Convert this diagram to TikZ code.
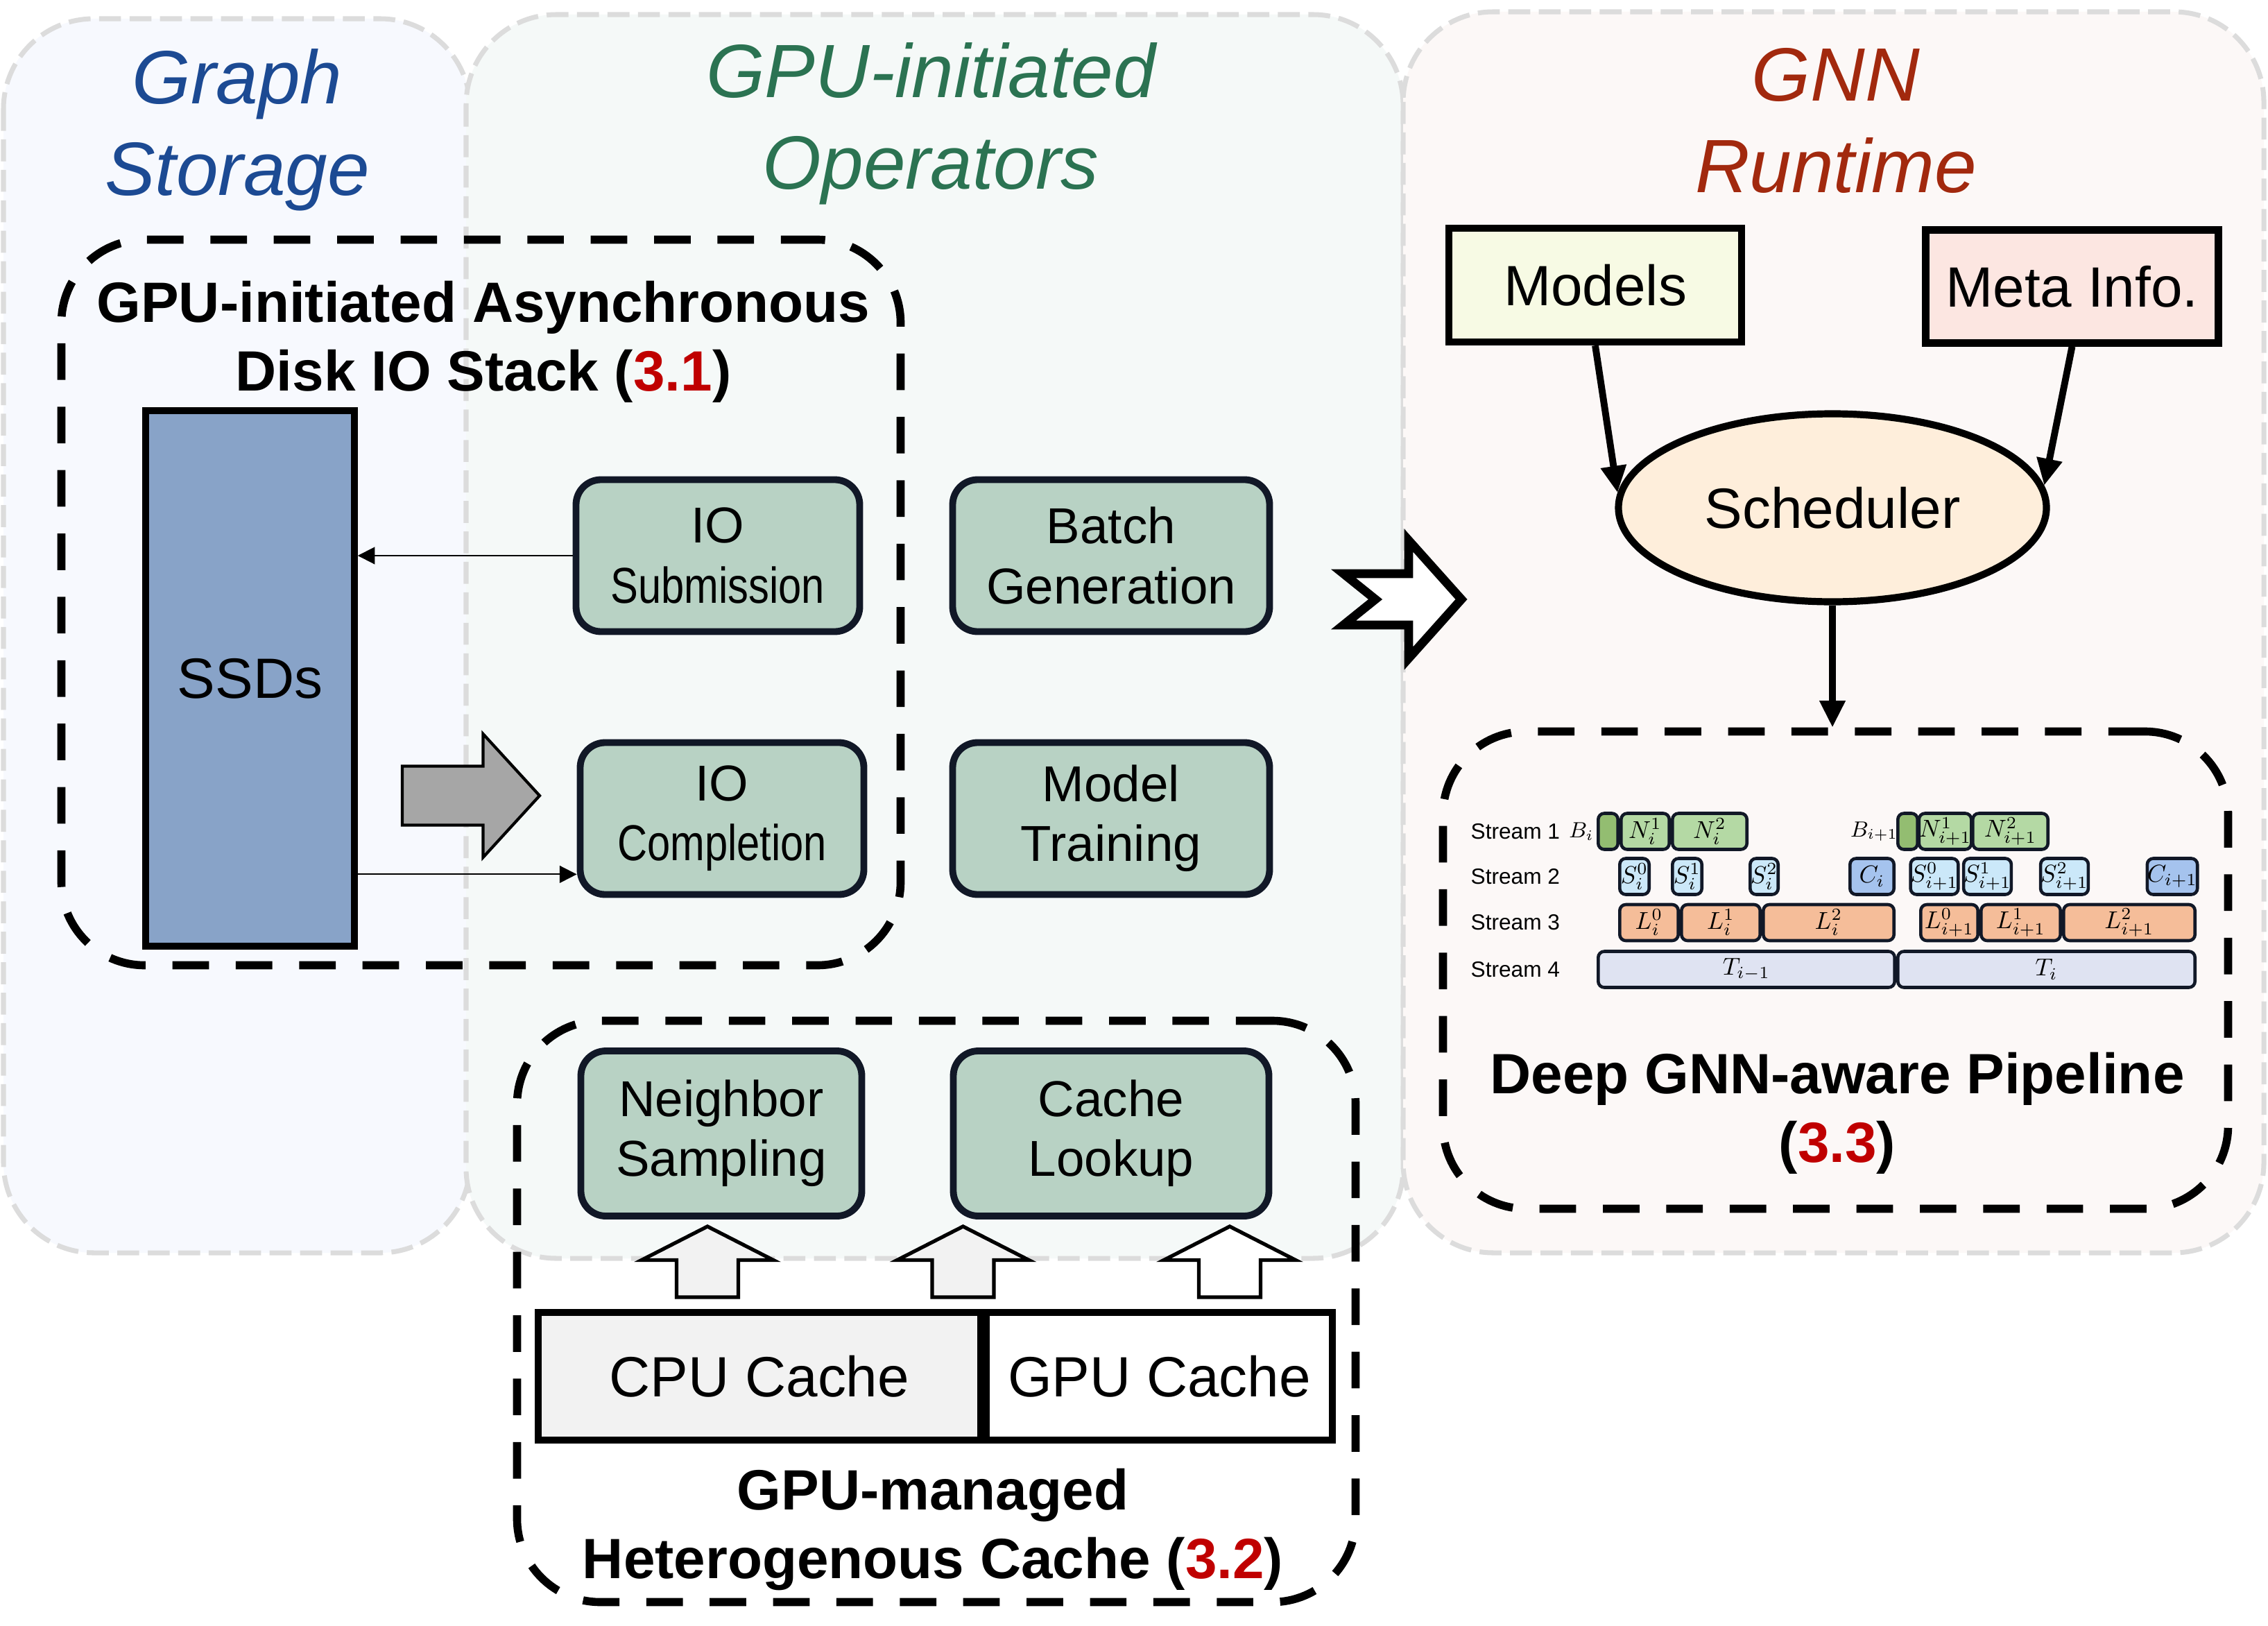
\documentclass[tikz,border=0pt]{standalone}
\usepackage{fontspec}
\setmainfont{Liberation Sans}
\usepackage{graphicx}
\usepackage{xcolor}
\usetikzlibrary{positioning, arrows.meta, shapes.geometric}
\definecolor{graphbg}{HTML}{F7F9FE}
\definecolor{opbg}{HTML}{F5F9F8}
\definecolor{gnnbg}{HTML}{FCF8F7}
\definecolor{panelgray}{HTML}{DCDCDC}
\definecolor{titleblue}{HTML}{1C4A93}
\definecolor{titlegreen}{HTML}{2B7352}
\definecolor{titlered}{HTML}{A2290E}
\definecolor{secred}{HTML}{C00000}
\definecolor{opgreen}{HTML}{B8D2C4}
\definecolor{inkblue}{HTML}{111827}
\definecolor{ssdblue}{HTML}{88A3C8}
\definecolor{arrowgray}{HTML}{A6A6A6}
\definecolor{cachegray}{HTML}{F2F2F2}
\definecolor{modelsfill}{HTML}{F7FAE4}
\definecolor{metafill}{HTML}{FCE6E1}
\definecolor{schedfill}{HTML}{FEEEDB}
\definecolor{bdark}{HTML}{93BD71}
\definecolor{blight}{HTML}{B4D9A4}
\definecolor{slight}{HTML}{CBE8F9}
\definecolor{cblue}{HTML}{A5C3EE}
\definecolor{lorange}{HTML}{F5BD99}
\definecolor{tlav}{HTML}{DFE3F2}

\begin{document}
\begin{tikzpicture}[
    panel/.style={line width=2pt, draw=panelgray, dash pattern=on 9pt off 3.5pt, rounded corners=1.3cm},
    ptitle/.style={font=\fontsize{31}{37.5}\selectfont\itshape, align=center},
    dbox/.style={rectangle, draw, line width=3.3pt, dash pattern=on 15pt off 11pt, rounded corners=1.2cm},
    hdr/.style={font=\fontsize{23.3}{28}\selectfont\bfseries, align=center},
    op/.style={rectangle, rounded corners=0.36cm, draw=inkblue, line width=2.8pt, fill=opgreen,
               font=\fontsize{20.7}{24.5}\selectfont, align=center, inner sep=0pt},
    plainbox/.style={rectangle, draw, line width=2.7pt, inner sep=0pt, font=\fontsize{23.3}{28}\selectfont},
    blk/.style={rectangle, rounded corners=2.5pt, draw=inkblue, line width=1.3pt, minimum height=0.52cm,
                inner sep=0pt, font=\fontsize{10}{12}\selectfont},
    stream/.style={anchor=west, inner sep=0pt, font=\fontsize{9}{11}\selectfont},
    thinarr/.style={-{Triangle[length=7pt,width=7pt]}, line width=0.6pt},
    thickarr/.style={-{Triangle[length=11pt,width=10pt]}, line width=2.8pt},
    blockarr/.style={draw, line width=1.5pt}
  ]
  \useasboundingbox[fill=white] (0,0) rectangle (32.70,-23.44);

  % background panels
  \draw[panel, fill=graphbg] (0.05,-0.27) rectangle (6.78,-18.06);
  \draw[panel, fill=opbg] (6.72,-0.21) rectangle (20.23,-18.14);
  \draw[panel, fill=gnnbg] (20.23,-0.17) rectangle (32.64,-18.06);

  \node[ptitle, text=titleblue] (gstitle) at (3.42,-1.87) {Graph\\Storage};
  \node[ptitle, text=titlegreen] (optitle) at (13.42,-1.78) {GPU-initiated\\Operators};
  \node[ptitle, text=titlered] (rttitle) at (26.47,-1.74) {GNN\\Runtime};

  % dashed groups
  \node[dbox, minimum width=12.10cm, minimum height=10.46cm] (diskio) at (6.935,-8.685) {};
  \node[dbox, minimum width=12.09cm, minimum height=8.38cm] (hetcache) at (13.50,-18.905) {};
  \node[dbox, minimum width=11.32cm, minimum height=6.88cm] (pipe) at (26.465,-13.985) {};

  \node[hdr] (diskhdr) at (6.97,-4.93) {GPU-initiated Asynchronous\\Disk IO Stack (\textcolor{secred}{3.1})};
  \node[hdr] (cachehdr) at (13.45,-22.05) {GPU-managed\\Heterogenous Cache (\textcolor{secred}{3.2})};
  \node[hdr] (pipehdr) at (26.49,-16.05) {Deep GNN-aware Pipeline\\(\textcolor{secred}{3.3})};

  % storage and operators
  \node[plainbox, fill=ssdblue, minimum width=3.01cm, minimum height=7.72cm] (ssd) at (3.605,-9.78) {SSDs};
  \node[op, minimum width=4.09cm, minimum height=2.19cm] (iosub) at (10.35,-8.01) {IO\\\scalebox{0.82}[1]{Submission}};
  \node[op, minimum width=4.09cm, minimum height=2.19cm] (iocomp) at (10.41,-11.80) {IO\\\scalebox{0.82}[1]{Completion}};
  \node[op, minimum width=4.57cm, minimum height=2.19cm] (batch) at (16.02,-8.01) {Batch\\Generation};
  \node[op, minimum width=4.57cm, minimum height=2.19cm] (train) at (16.02,-11.80) {Model\\Training};
  \node[op, minimum width=4.05cm, minimum height=2.38cm] (nsamp) at (10.40,-16.34) {Neighbor\\Sampling};
  \node[op, minimum width=4.55cm, minimum height=2.38cm] (lookup) at (16.02,-16.34) {Cache\\Lookup};

  \draw[thinarr] (iosub.west) -- (iosub.west -| ssd.east);
  \draw[thinarr] (iocomp.201 -| ssd.east) -- (iocomp.201);
  \draw[blockarr, fill=arrowgray, line width=1.2pt] (5.80,-11.045) -- (6.965,-11.045) -- (6.965,-10.58)
    -- (7.78,-11.47) -- (6.965,-12.36) -- (6.965,-11.895) -- (5.80,-11.895) -- cycle;

  % cache
  \node[plainbox, fill=cachegray, minimum width=6.38cm, minimum height=1.84cm] (cpuc) at (10.95,-19.84) {CPU Cache};
  \node[plainbox, fill=white, minimum width=4.99cm, minimum height=1.84cm] (gpuc) at (16.715,-19.84) {GPU Cache};
  \foreach \cx/\fc in {10.20/cachegray, 13.885/cachegray, 17.73/white}
    \draw[blockarr, fill=\fc] ({\cx-0.445},-18.70) -- ({\cx-0.445},-18.165) -- ({\cx-0.95},-18.165)
      -- (\cx,-17.68) -- ({\cx+0.95},-18.165) -- ({\cx+0.445},-18.165) -- ({\cx+0.445},-18.70) -- cycle;

  % hand-off arrow
  \draw[line width=3.6pt, fill=white] (19.37,-8.27) -- (20.31,-8.27) -- (20.31,-7.79) -- (21.07,-8.64)
    -- (20.31,-9.49) -- (20.31,-9.01) -- (19.37,-9.01) -- (19.83,-8.64) -- cycle;

  % runtime
  \node[plainbox, fill=modelsfill, line width=2.9pt, minimum width=4.22cm, minimum height=1.64cm] (models) at (23.0,-4.11) {Models};
  \node[plainbox, fill=metafill, line width=2.9pt, minimum width=4.22cm, minimum height=1.63cm] (meta) at (29.875,-4.13) {Meta Info.};
  \node[ellipse, draw, line width=2.9pt, fill=schedfill, minimum width=6.17cm, minimum height=2.71cm,
        inner sep=0pt, font=\fontsize{23.3}{28}\selectfont] (sched) at (26.42,-7.32) {Scheduler};
  \draw[thickarr] (models.south) -- (sched.176);
  \draw[thickarr] (meta.south) -- (sched.6);
  \draw[thickarr] (sched.south) -- (sched.south |- pipe.north);

  % pipeline chart
  \node[stream] (st1) at (21.20,-11.985) {Stream 1};
  \node[stream] (st2) at (21.20,-12.635) {Stream 2};
  \node[stream] (st3) at (21.20,-13.30) {Stream 3};
  \node[stream] (st4) at (21.20,-13.975) {Stream 4};
  \node[font=\fontsize{9}{11}\selectfont] (bi) at (22.80,-11.985) {$B_i$};
  \node[font=\fontsize{9}{11}\selectfont] (bnext) at (27.02,-11.985) {$B_{i+1}$};
  \foreach \a/\b/\c/\t [count=\k] in {23.02/23.35/bdark/{}, 23.35/24.09/blight/{$N_i^1$}, 24.09/25.21/blight/{$N_i^2$},
      27.34/27.67/bdark/{}, 27.67/28.42/blight/{$N_{i+1}^1$}, 28.42/29.55/blight/{$N_{i+1}^2$}}
    \node[blk, fill=\c, minimum width={(\b-\a)*1cm-1.3pt}] (ra-\k) at ({(\a+\b)/2},-11.985) {\t};
  \foreach \a/\b/\c/\t [count=\k] in {23.33/23.80/slight/{$S_i^0$}, 24.09/24.56/slight/{$S_i^1$}, 25.21/25.66/slight/{$S_i^2$},
      26.65/27.33/cblue/{$C_i$}, 27.66/28.12/slight/{$S_{i+1}^0$}, 28.42/28.89/slight/{$S_{i+1}^1$},
      29.53/30.00/slight/{$S_{i+1}^2$}, 30.97/31.67/cblue/{$C_{i+1}$}}
    \node[blk, fill=\c, minimum width={(\b-\a)*1cm-1.3pt}] (rb-\k) at ({(\a+\b)/2},-12.635) {\t};
  \foreach \a/\b/\t [count=\k] in {23.33/24.22/{$L_i^0$}, 24.22/25.40/{$L_i^1$}, 25.40/27.33/{$L_i^2$},
      27.67/28.54/{$L_{i+1}^0$}, 28.54/29.73/{$L_{i+1}^1$}, 29.73/31.67/{$L_{i+1}^2$}}
    \node[blk, fill=lorange, minimum width={(\b-\a)*1cm-1.3pt}] (rc-\k) at ({(\a+\b)/2},-13.30) {\t};
  \foreach \a/\b/\t [count=\k] in {23.02/27.34/{$T_{i-1}$}, 27.34/31.67/{$T_i$}}
    \node[blk, fill=tlav, minimum width={(\b-\a)*1cm-1.3pt}] (rd-\k) at ({(\a+\b)/2},-13.975) {\t};
\end{tikzpicture}
\end{document}
